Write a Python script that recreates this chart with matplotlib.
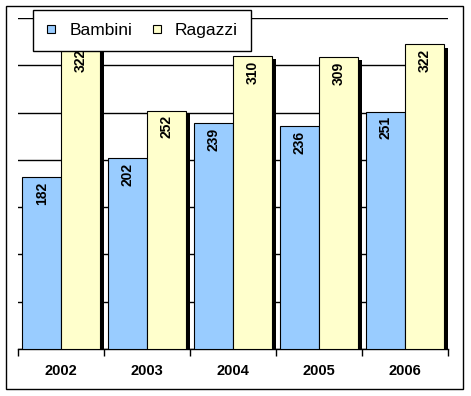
"""
Bar chart: Bambini vs Ragazzi per anno, stile Excel con ombre.
"""

import numpy as np
import matplotlib
matplotlib.use('Agg')
import matplotlib.pyplot as plt
from matplotlib.lines import Line2D
from matplotlib.patches import Rectangle

plt.rcParams['font.family'] = ['Liberation Sans', 'DejaVu Sans']

# Data
years = ['2002', '2003', '2004', '2005', '2006']
bambini = [182, 202, 239, 236, 251]
ragazzi = [322, 252, 310, 309, 322]
series_names = ['Bambini', 'Ragazzi']

COL_B = '#99CCFF'
COL_R = '#FFFFCC'

W, H = 471, 396
fig = plt.figure(figsize=(W / 100, H / 100), dpi=100)

# Outer chart frame
fig.patches.append(Rectangle((6 / W, 1 - 389 / H), 457 / W, 383 / H,
                             transform=fig.transFigure, fill=False,
                             edgecolor='black', linewidth=1.0, zorder=0))

ax = fig.add_axes([18 / W, 1 - 349 / H, 430 / W, 331 / H])

x = np.arange(len(years))
bw = 0.45
dx = 0.045   # shadow offset (data units)
dy = 3.5

# Shadows first
for off, vals in [(-bw / 2, bambini), (bw / 2, ragazzi)]:
    ax.bar(x + off + dx, np.array(vals) - dy, bw, color='black',
           linewidth=0, zorder=2)

ax.bar(x - bw / 2, bambini, bw, color=COL_B, edgecolor='black',
       linewidth=0.8, zorder=3)
ax.bar(x + bw / 2, ragazzi, bw, color=COL_R, edgecolor='black',
       linewidth=0.8, zorder=3)

# Value labels inside top of bars
for off, vals in [(-bw / 2, bambini), (bw / 2, ragazzi)]:
    for xi, v in zip(x, vals):
        ax.text(xi + off, v - 5, str(v), rotation=90, ha='center', va='top',
                fontsize=10, fontweight='bold', zorder=4)

ax.set_xlim(-0.5, len(years) - 0.5)
ax.set_ylim(0, 350)
ax.set_yticks(np.arange(0, 351, 50))
ax.yaxis.grid(True, color='black', linewidth=1.0)
ax.set_axisbelow(True)
ax.tick_params(axis='y', length=0, labelleft=False)

ax.set_xticks(np.arange(-0.5, len(years), 1.0))
ax.set_xticklabels([])
ax.tick_params(axis='x', which='major', direction='out', length=5,
               width=1.0, color='black')
ax.set_xticks(x, minor=True)
ax.set_xticklabels(years, minor=True, fontsize=10.5, fontweight='bold')
ax.tick_params(axis='x', which='minor', length=0, pad=11)

for s in ['top', 'right', 'left']:
    ax.spines[s].set_visible(False)
ax.spines['bottom'].set_linewidth(1.0)

handles = [Line2D([], [], marker='s', linestyle='none', markersize=6,
                  markerfacecolor=c, markeredgecolor='black',
                  markeredgewidth=0.8) for c in (COL_B, COL_R)]
leg = fig.legend(handles, series_names, loc='upper left',
                 bbox_to_anchor=(33 / W, 1 - 10 / H), ncol=2, fontsize=12.5,
                 frameon=True, fancybox=False, edgecolor='black',
                 framealpha=1, borderaxespad=0, handlelength=0.6,
                 handletextpad=0.75, columnspacing=1.1, borderpad=0.75)
leg.get_frame().set_linewidth(1.0)

fig.savefig('out.png', dpi=100)
